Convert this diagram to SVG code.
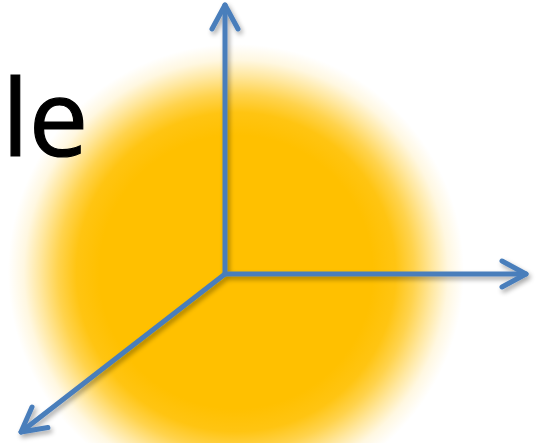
<svg xmlns="http://www.w3.org/2000/svg" width="538" height="443" viewBox="0 0 538 443">
  <style>
    .axis { stroke: #4A7EBB; stroke-width: 5; fill: none; stroke-linecap: round; }
    .lbl { font-family: "Open Sans", "Liberation Sans", sans-serif; font-size: 106px; fill: #000; stroke: #000; stroke-width: 1.2; }
  </style>
  <defs>
    <radialGradient id="glow" cx="236" cy="272" r="228" gradientUnits="userSpaceOnUse">
      <stop offset="0" stop-color="#FFC000" stop-opacity="1"/>
      <stop offset="0.6" stop-color="#FFC000" stop-opacity="1"/>
      <stop offset="0.7" stop-color="#FFC000" stop-opacity="0.93"/>
      <stop offset="0.78" stop-color="#FFC000" stop-opacity="0.7"/>
      <stop offset="0.86" stop-color="#FFC000" stop-opacity="0.38"/>
      <stop offset="0.93" stop-color="#FFC000" stop-opacity="0.12"/>
      <stop offset="1" stop-color="#FFC000" stop-opacity="0"/>
    </radialGradient>
    <marker id="head" markerUnits="userSpaceOnUse" markerWidth="40" markerHeight="40" refX="20" refY="20" orient="auto" overflow="visible">
      <path d="M -4 7 L 20 20 L -4 33" fill="none" stroke="#4A7EBB" stroke-width="5" stroke-linecap="round" stroke-linejoin="round"/>
    </marker>
    <filter id="shadow" x="-20%" y="-20%" width="140%" height="140%">
      <feGaussianBlur in="SourceAlpha" stdDeviation="2.5"/>
      <feOffset dx="2" dy="3" result="b"/>
      <feComponentTransfer><feFuncA type="linear" slope="0.35"/></feComponentTransfer>
      <feMerge><feMergeNode/><feMergeNode in="SourceGraphic"/></feMerge>
    </filter>
  </defs>
  <rect width="538" height="443" fill="#FFFFFF"/>
  <circle id="glow-ball" cx="236" cy="272" r="228" fill="url(#glow)"/>
  <g id="label">
    <text class="lbl" x="2" y="156">le</text>
  </g>
  <g id="connectors" filter="url(#shadow)">
    <line class="axis" x1="225" y1="274" x2="225" y2="5" marker-end="url(#head)"/>
    <line class="axis" x1="225" y1="274" x2="526" y2="274" marker-end="url(#head)"/>
    <line class="axis" x1="225" y1="274" x2="21" y2="432" marker-end="url(#head)"/>
  </g>
</svg>
